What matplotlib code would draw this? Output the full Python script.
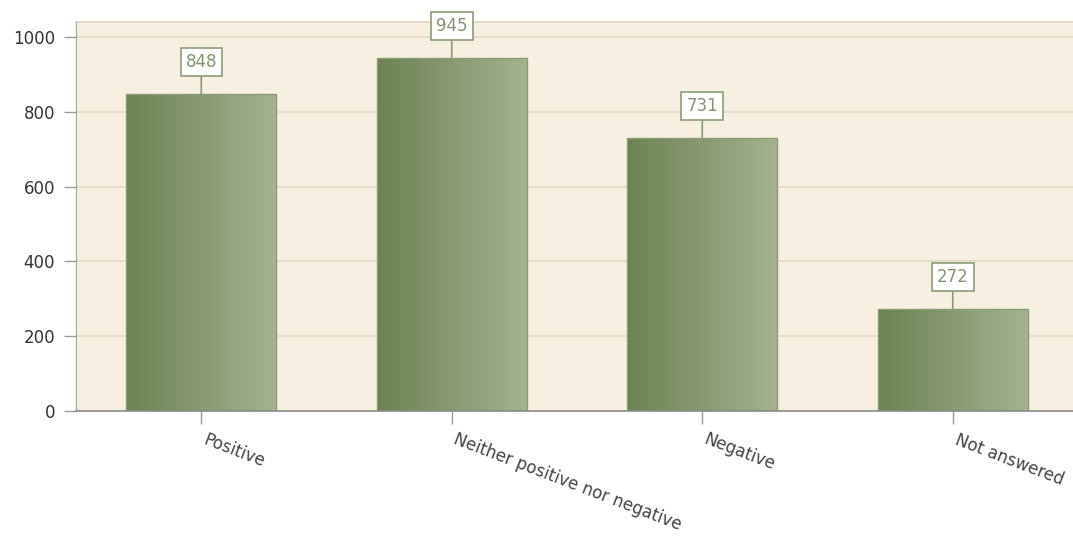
import matplotlib
matplotlib.use("Agg")
import matplotlib.pyplot as plt
import matplotlib.transforms as mtransforms
import numpy as np
from matplotlib.colors import LinearSegmentedColormap

categories = ["Positive", "Neither positive nor negative", "Negative", "Not answered"]
values = [848, 945, 731, 272]
yticks = [0, 200, 400, 600, 800, 1000]

fig = plt.figure(figsize=(10.73, 5.38), dpi=100)
ax = fig.add_axes([76/1073, 1-411/538, (1073-76)/1073, (411-22)/538])
ax.set_facecolor("#f7efe0")

x = np.arange(len(categories))
width = 0.6
bars = ax.bar(x, values, width=width, color="none", edgecolor="#8a9c74", linewidth=1, zorder=3)

cmap = LinearSegmentedColormap.from_list("g", ["#6c8351", "#889b70", "#a4b48e"])
grad = np.linspace(0, 1, 256).reshape(1, -1)
for b in bars:
    x0 = b.get_x(); w = b.get_width(); h = b.get_height()
    im = ax.imshow(grad, extent=[x0, x0 + w, 0, h], aspect="auto", cmap=cmap, zorder=2, origin="lower")
    im.set_clip_path(b)

ax.set_xlim(-0.5, 3.48)
ax.set_ylim(0, 1040)
ax.set_yticks(yticks)
ax.set_yticklabels([str(v) for v in yticks], fontsize=12, color="#333333")
ax.set_xticks(x)
ax.set_xticklabels(categories, rotation=-21, ha="left", va="top", rotation_mode="anchor",
                   fontsize=12, color="#444444")
ax.tick_params(axis="both", length=9, color="#999999", width=1)
ax.tick_params(axis="y", pad=6)
ax.tick_params(axis="x", pad=5)
shift = mtransforms.ScaledTranslation(6/100, 0, fig.dpi_scale_trans)
for lbl in ax.get_xticklabels():
    lbl.set_transform(lbl.get_transform() + shift)
ax.grid(axis="y", color="#e3d9c6", linewidth=1.2, zorder=0)
ax.set_axisbelow(True)
for s in ["top", "right"]:
    ax.spines[s].set_visible(False)
ax.spines["left"].set_color("#a8a298")
ax.spines["bottom"].set_color("#888888")
ax.spines["bottom"].set_linewidth(1.2)
ax.axhline(1040, color="#e3d9c6", linewidth=1.5, zorder=1, clip_on=False)

for xi, v in zip(x, values):
    ax.annotate(str(v), xy=(xi, v), xytext=(0, 23), textcoords="offset points",
                ha="center", va="center", fontsize=12, color="#82946c",
                bbox=dict(boxstyle="square,pad=0.3", fc="white", ec="#8a9c74", lw=1.2),
                arrowprops=dict(arrowstyle="-", color="#8a9c74", lw=1.2, shrinkA=0, shrinkB=0),
                zorder=5, annotation_clip=False)

fig.savefig("out.png", dpi=100)
